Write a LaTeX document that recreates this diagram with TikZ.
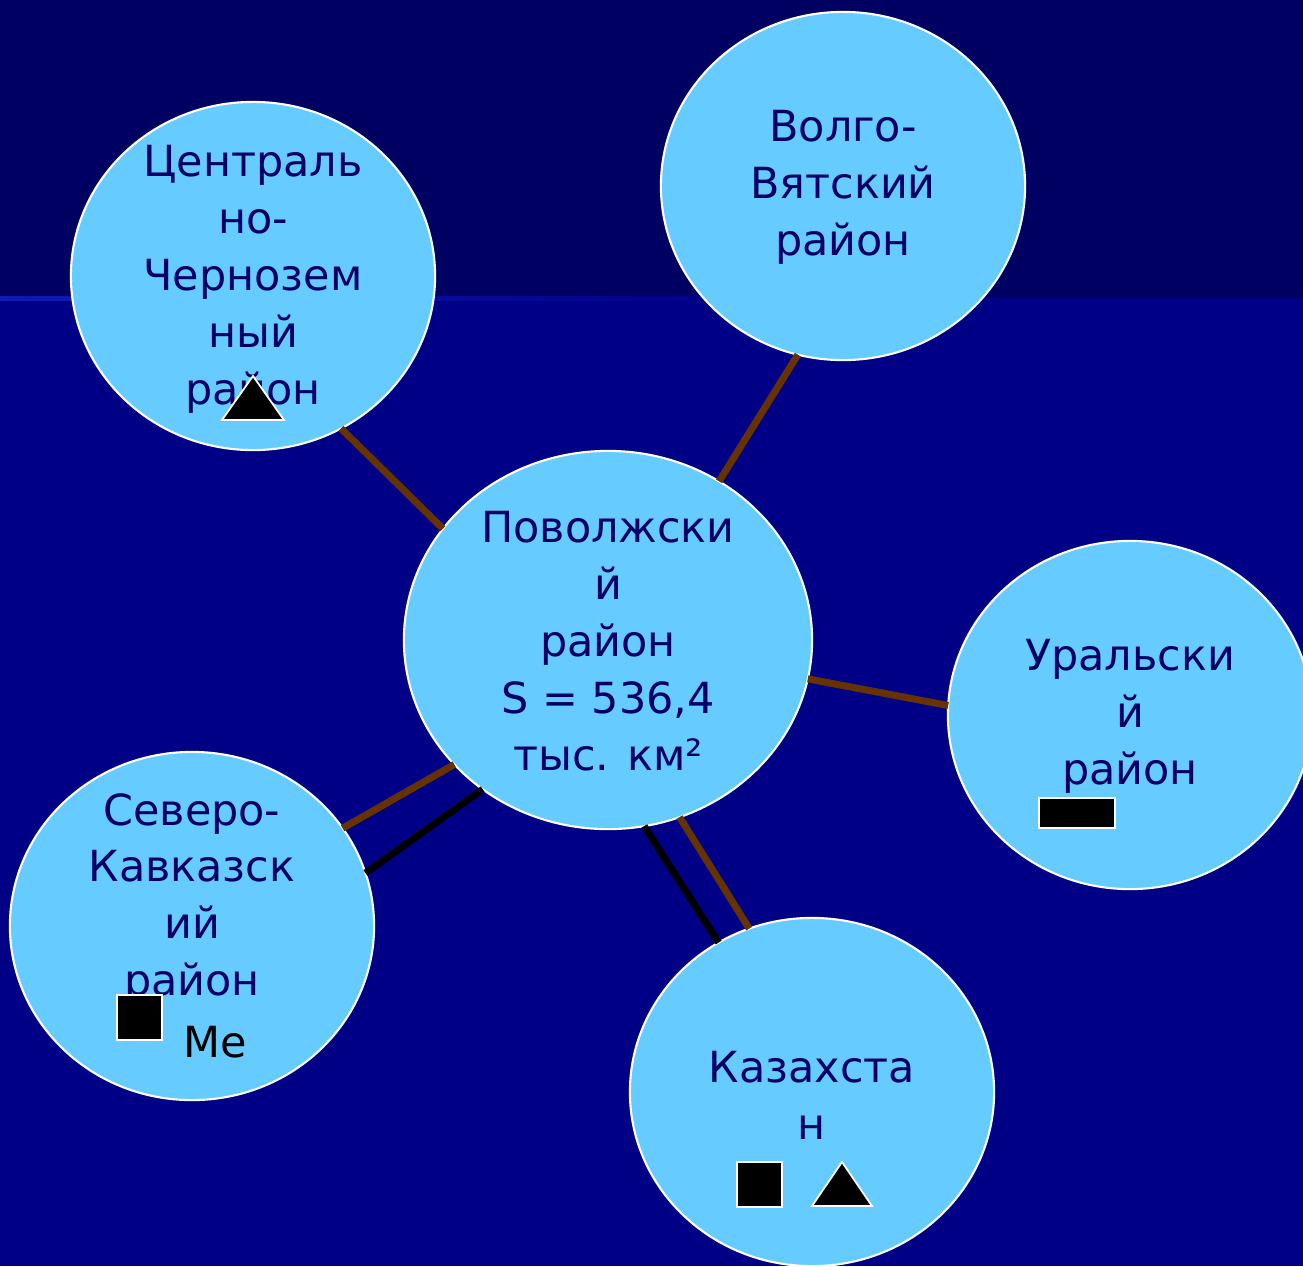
\documentclass[tikz,border=0pt]{standalone}
\usepackage{fontspec}
\setmainfont{DejaVu Sans}
\usetikzlibrary{shapes.geometric,positioning}
\definecolor{topbg}{HTML}{000062}
\definecolor{lowbg}{HTML}{000086}
\definecolor{ballfill}{HTML}{66CCFF}
\definecolor{ink}{HTML}{000066}
\definecolor{brownline}{HTML}{663300}
\tikzset{
  region/.style={draw=white, line width=0.6pt, fill=ballfill, ellipse, outer sep=0pt,
    minimum width=3.64cm, minimum height=3.48cm},
  txt/.style={text=ink, align=center, inner sep=0pt,
    font=\fontsize{12.2}{16.2}\selectfont},
  link/.style={line width=2pt, draw=brownline},
  blink/.style={line width=2pt, draw=black},
  marker/.style={fill=black, draw=white, line width=0.5pt}
}

\begin{document}
\begin{tikzpicture}[x=0.01cm,y=-0.01cm]
    % background
    \fill [lowbg] (0,0) rectangle (1303,1266);
    \fill [topbg] (0,0) rectangle (1303,298);
    \shade [left color={rgb,255:red,16;green,26;blue,180}, right color=lowbg] (0,296) rectangle (760,300);
    \useasboundingbox (0,0) rectangle (1303,1266);
    \clip (0,0) rectangle (1303,1266);

    % balls
    \node [region, minimum width=4.08cm, minimum height=3.78cm] (pov) at (608,640) {};
    \node [region] (chz) at (253,276) {};
    \node [region] (volga) at (843,186) {};
    \node [region] (ural) at (1130,715) {};
    \node [region] (sevkav) at (192,926) {};
    \node [region] (kaz) at (812,1092) {};

    % links
    \draw [link] (chz.300) -- (pov.146);
    \draw [link] (volga.255) -- (pov.55);
    \draw [link] (pov.349) -- (ural.177);
    \draw [link] (sevkav.33) -- (pov.219);
    \draw [blink] (sevkav.17) -- (pov.230);
    \draw [blink] (pov.281) -- (kaz.122);
    \draw [link] (pov.292) -- (kaz.111);

    % texts
    \node [txt] (povtxt) at (608,641) {Поволжски\\й\\район\\S = 536,4\\тыс. км²};
    \node [txt] (chztxt) at (253,279) {Централь\\но-\\Чернозем\\ный\\район};
    \node [txt] (volgatxt) at (843,187) {Волго-\\Вятский\\район};
    \node [txt] (uraltxt) at (1130,716) {Уральски\\й\\район};
    \node [txt] (sevkavtxt) at (192,899) {Северо-\\Кавказск\\ий\\район};
    \node [txt] (kaztxt) at (812,1095) {Казахста\\н};
    \node [txt, text=black] (me) at (215,1042) {Ме};

    % markers
    \draw [marker] (222,420) -- (253,376) -- (284,420) -- cycle;
    \draw [marker] (1039,798) rectangle (1115,828);
    \draw [marker] (117,995) rectangle (162,1040);
    \draw [marker] (737,1162) rectangle (782,1207);
    \draw [marker] (812,1206) -- (842,1162) -- (872,1206) -- cycle;
\end{tikzpicture}
\end{document}
